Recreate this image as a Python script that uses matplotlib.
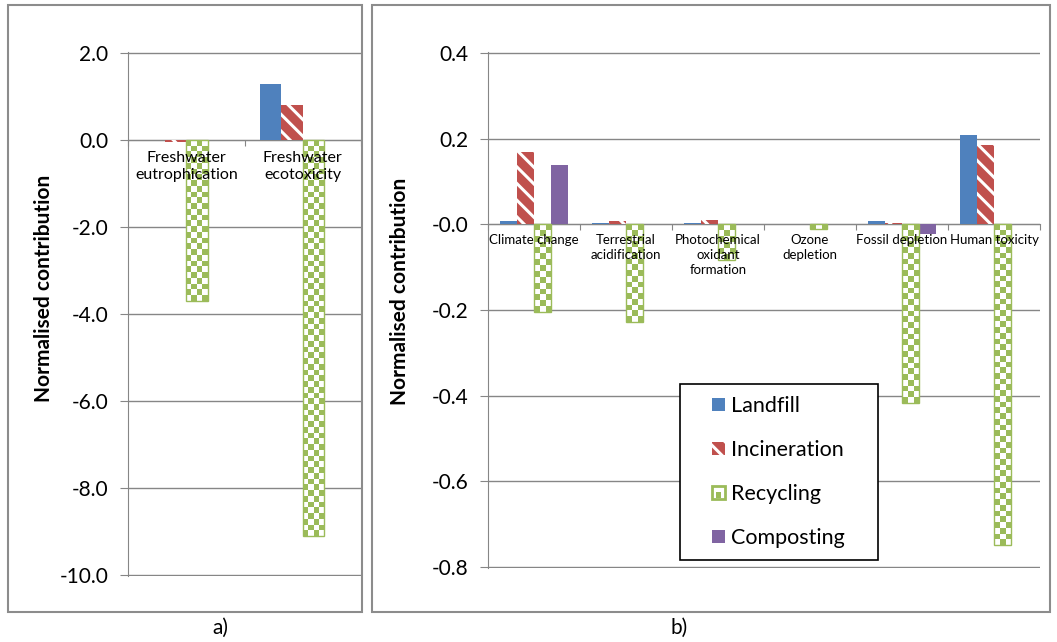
import numpy as np
import matplotlib
matplotlib.use("Agg")
import matplotlib.pyplot as plt
from matplotlib.patches import Rectangle, Patch
from matplotlib.colors import ListedColormap
from matplotlib.legend_handler import HandlerBase

# series
series = ["Landfill", "Incineration", "Recycling", "Composting"]
colors = ["#4F81BD", "#C0504D", "#9BBB59", "#8064A2"]

# panel a)
cats_a = ["Freshwater\neutrophication", "Freshwater\necotoxicity"]
landfill_a = [0.0, 1.28]
incin_a = [-0.05, 0.80]
recyc_a = [-3.70, -9.10]
compost_a = [0.0, 0.0]

# panel b)
cats_b = ["Climate change", "Terrestrial\nacidification", "Photochemical\noxidant\nformation",
          "Ozone\ndepletion", "Fossil depletion", "Human toxicity"]
landfill_b = [0.008, 0.003, 0.002, 0.0, 0.007, 0.209]
incin_b = [0.168, 0.007, 0.009, 0.001, 0.002, 0.186]
recyc_b = [-0.204, -0.228, -0.083, -0.012, -0.416, -0.749]
compost_b = [0.139, 0.001, 0.0, 0.0, -0.022, 0.0]

GRAY = "#868686"
GREEN = colors[2]

plt.rcParams["font.family"] = ["Lato", "DejaVu Sans"]
plt.rcParams["axes.unicode_minus"] = False
plt.rcParams["hatch.linewidth"] = 2.2
plt.rcParams["hatch.color"] = "white"

W, H = 1057, 642
fig = plt.figure(figsize=(W / 100, H / 100), dpi=100)


def fx(px):
    return px / W


def fy(py):
    return 1 - py / H


def checker(ax, bar, cell=5.7):
    # green/white checkerboard clipped to the bar
    x0, w, h = bar.get_x(), bar.get_width(), bar.get_height()
    p = ax.transData.transform([(x0, 0), (x0 + w, h)])
    wpx, hpx = np.abs(p[1] - p[0])
    nc = max(1, int(round(wpx / cell)))
    nr = max(1, int(round(hpx / cell)))
    grid = np.add.outer(np.arange(nr), np.arange(nc)) % 2
    im = ax.imshow(grid, cmap=ListedColormap([GREEN, "white"]), extent=(x0, x0 + w, h, 0),
                   aspect="auto", interpolation="nearest", zorder=2.6)
    im.set_clip_path(bar)


def panel(ax, cats, vals, ylim, yticks, catsize, catpad):
    n = len(cats)
    x = np.arange(n)
    w = 0.185
    span = ylim[1] - ylim[0]
    lims = (ylim[0] - 0.002 * span, ylim[1] + 0.002 * span)
    ax.set_xlim(-0.5, n - 0.5)
    ax.set_ylim(*lims)
    rec_bars = None
    for i, (name, c, v) in enumerate(zip(series, colors, vals)):
        pos = x + (i - 1.5) * w
        if name == "Incineration":
            ax.bar(pos, v, w, color=c, edgecolor="white", linewidth=0, hatch="\\\\", zorder=2.6)
        elif name == "Recycling":
            rec_bars = ax.bar(pos, v, w, facecolor="none", edgecolor=GREEN, linewidth=1, zorder=3)
        else:
            ax.bar(pos, v, w, color=c, linewidth=0, zorder=2.6)
    for b in rec_bars:
        if b.get_height() != 0:
            checker(ax, b)
    ax.set_xlim(-0.5, n - 0.5)
    ax.set_ylim(*lims)

    ax.set_yticks(yticks)
    ax.yaxis.set_major_formatter(matplotlib.ticker.FormatStrFormatter("%.1f"))
    ax.tick_params(axis="y", direction="out", length=6, color=GRAY, labelsize=15, pad=8)
    ax.grid(axis="y", color=GRAY, linewidth=1)
    ax.set_axisbelow(True)

    for s in ["top", "right"]:
        ax.spines[s].set_visible(False)
    ax.spines["left"].set_color(GRAY)
    ax.spines["bottom"].set_color(GRAY)
    ax.spines["bottom"].set_position(("data", 0))

    ax.set_xticks(np.arange(n + 1) - 0.5)
    ax.set_xticklabels([])
    ax.set_xticks(x, cats, minor=True)
    ax.tick_params(axis="x", which="major", direction="out", length=4, color=GRAY)
    ax.tick_params(axis="x", which="minor", length=0, labelsize=catsize, pad=catpad)
    for t in ax.get_xticklabels(minor=True):
        t.set_linespacing(1.3)
    # category names sit on top of the bars
    ax.xaxis.set_zorder(4)


ax_a = fig.add_axes([fx(128), fy(576), fx(361 - 128), (576 - 52) / H])
panel(ax_a, cats_a, [landfill_a, incin_a, recyc_a, compost_a], (-10, 2),
      np.arange(-10, 2.1, 2), 11.5, 8)

ax_b = fig.add_axes([fx(488), fy(568), fx(1040 - 488), (568 - 52) / H])
panel(ax_b, cats_b, [landfill_b, incin_b, recyc_b, compost_b], (-0.8, 0.4),
      np.arange(-0.8, 0.41, 0.2), 9.5, 7)

fig.text(fx(44), fy(288), "Normalised contribution", rotation=90, ha="center", va="center",
         fontsize=15, fontweight="bold")
fig.text(fx(400), fy(291), "Normalised contribution", rotation=90, ha="center", va="center",
         fontsize=15, fontweight="bold")

# panel frames and captions
fig.patches.append(Rectangle((fx(8), fy(612)), fx(362 - 8), (612 - 5) / H, transform=fig.transFigure,
                             fill=False, edgecolor="#8c8c8c", linewidth=1.5))
fig.patches.append(Rectangle((fx(372), fy(612)), fx(1050 - 372), (612 - 5) / H, transform=fig.transFigure,
                             fill=False, edgecolor="#8c8c8c", linewidth=1.5))
fig.text(fx(220), fy(628), "a)", ha="center", va="center", fontsize=15)
fig.text(fx(679), fy(628), "b)", ha="center", va="center", fontsize=15)


class Swatch(HandlerBase):
    def create_artists(self, legend, orig_handle, xdescent, ydescent, width, height, fontsize, trans):
        s = 0.6 * fontsize
        x0 = -xdescent + width - s
        y0 = -ydescent + (height - s) / 2
        name = orig_handle.get_label()
        if name == "Recycling":
            box = Rectangle((x0, y0), s, s, facecolor="white", edgecolor=GREEN, linewidth=2, transform=trans)
            inner = Rectangle((x0 + 0.3 * s, y0 + 0.1 * s), 0.4 * s, 0.45 * s, facecolor=GREEN,
                              linewidth=0, transform=trans)
            return [box, inner]
        r = Rectangle((x0, y0), s, s, facecolor=orig_handle.get_facecolor(), edgecolor="white",
                      hatch=orig_handle.get_hatch(), linewidth=0, transform=trans)
        return [r]


handles = [Patch(facecolor=c, label=n, hatch="\\\\" if n == "Incineration" else None)
           for n, c in zip(series, colors)]
leg = ax_b.legend(handles=handles, handler_map={Patch: Swatch()}, loc="upper left", mode="expand",
                  bbox_to_anchor=(fx(680), fy(557), fx(878 - 680), (557 - 384) / H),
                  bbox_transform=fig.transFigure, borderaxespad=0, fontsize=15.5, fancybox=False,
                  framealpha=1, borderpad=0.55, handlelength=1.54, handletextpad=0.28,
                  labelspacing=1.12)
leg.get_frame().set_edgecolor("black")
leg.get_frame().set_linewidth(1.2)

fig.savefig("out.png", dpi=100)
